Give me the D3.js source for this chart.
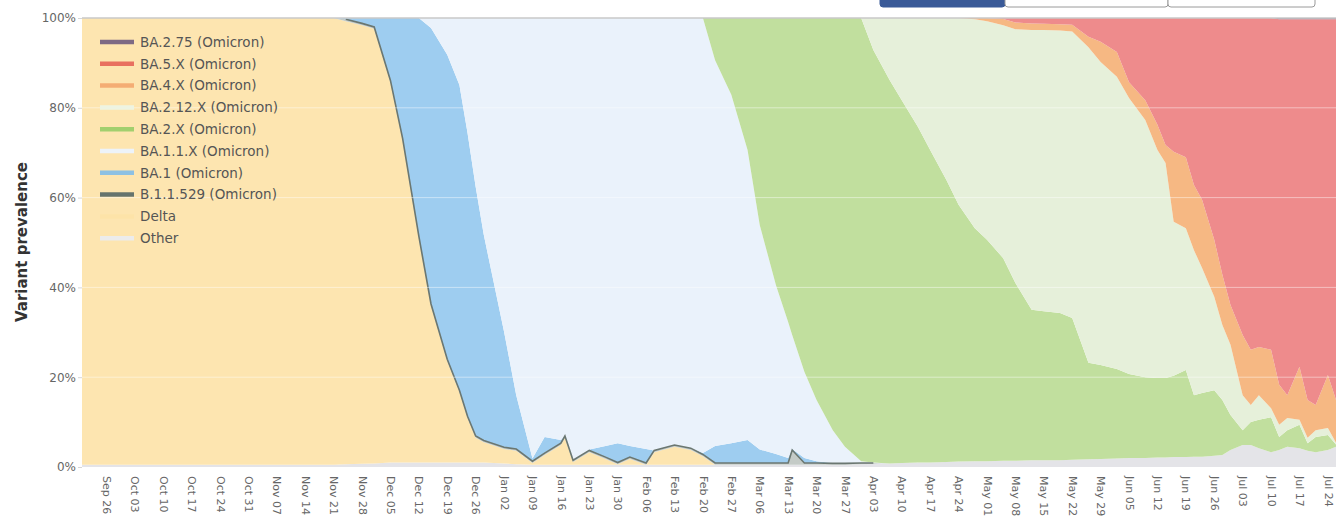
<!DOCTYPE html>
<html>
<head>
<meta charset="utf-8">
<script src="https://cdn.jsdelivr.net/npm/d3@7"></script>
<style>
	body { margin: 0; background: #fff; }
	svg { display: block; font-family: "DejaVu Sans", Verdana, sans-serif; }
</style>
</head>
<body>
<svg></svg>
<script>
// sample dates (two or three per week, denser where the mix changes fast)
var dates = ["2021-09-20","2021-10-10","2021-11-07","2021-11-21","2021-11-24","2021-11-28","2021-12-01","2021-12-05","2021-12-08","2021-12-12",
	"2021-12-15","2021-12-19","2021-12-22","2021-12-24","2021-12-26","2021-12-28","2022-01-02","2022-01-05","2022-01-09","2022-01-12",
	"2022-01-16","2022-01-17","2022-01-19","2022-01-23","2022-01-27","2022-01-30","2022-02-02","2022-02-06","2022-02-08","2022-02-13",
	"2022-02-17","2022-02-20","2022-02-23","2022-02-27","2022-03-03","2022-03-06","2022-03-10","2022-03-13","2022-03-14","2022-03-17",
	"2022-03-20","2022-03-24","2022-03-27","2022-03-31","2022-04-03","2022-04-07","2022-04-10","2022-04-14","2022-04-17","2022-04-21",
	"2022-04-24","2022-04-28","2022-05-01","2022-05-05","2022-05-08","2022-05-12","2022-05-15","2022-05-19","2022-05-22","2022-05-26",
	"2022-05-29","2022-06-02","2022-06-05","2022-06-09","2022-06-12","2022-06-14","2022-06-16","2022-06-19","2022-06-21","2022-06-23",
	"2022-06-26","2022-06-28","2022-06-30","2022-07-03","2022-07-05","2022-07-07","2022-07-10","2022-07-12","2022-07-14","2022-07-17",
	"2022-07-19","2022-07-21","2022-07-24","2022-07-26"]

// prevalence in %, one value per date
var other = [0.5,0.5,0.5,0.5,0.6,0.7,0.8,1.0,1.0,1.0,
	1.0,1.0,1.0,1.0,1.0,1.0,0.8,0.6,0.5,0.5,
	0.5,0.5,0.5,0.5,0.5,0.5,0.5,0.5,0.5,0.5,
	0.5,0.5,0.5,0.5,0.5,0.5,0.5,0.5,0.5,0.5,
	0.5,0.5,0.5,0.6,0.7,0.8,0.9,1.0,1.0,1.1,
	1.2,1.3,1.3,1.4,1.4,1.5,1.5,1.5,1.6,1.7,
	1.8,1.9,2.0,2.0,2.1,2.1,2.2,2.2,2.3,2.3,
	2.5,2.7,3.8,4.9,4.9,4.2,3.3,3.8,4.5,4.2,
	3.6,3.3,3.8,4.5]
var delta = [99.5,99.5,99.5,99.5,98.7,97.7,96.8,84.7,71.8,50.0,
	34.9,22.6,15.7,9.9,5.5,4.5,3.2,3.0,0.4,2.2,
	4.4,6.0,0.6,2.8,1.3,0.1,1.3,0,2.8,4.0,
	3.3,1.9,0,0,0,0,0,0,0,0,
	0,0,0,0,0,0,0,0,0,0,
	0,0,0,0,0,0,0,0,0,0,
	0,0,0,0,0,0,0,0,0,0,
	0,0,0,0,0,0,0,0,0,0,
	0,0,0,0]
var b11529 = [0,0,0,0,0.4,0.4,0.4,0.4,0.4,0.4,
	0.4,0.4,0.4,0.4,0.4,0.4,0.4,0.4,0.4,0.4,
	0.4,0.4,0.4,0.4,0.4,0.4,0.4,0.4,0.4,0.4,
	0.4,0.4,0.4,0.4,0.4,0.4,0.4,0.4,3.3,0.4,
	0.4,0.3,0.3,0.3,0.2,0,0,0,0,0,
	0,0,0,0,0,0,0,0,0,0,
	0,0,0,0,0,0,0,0,0,0,
	0,0,0,0,0,0,0,0,0,0,
	0,0,0,0]
var ba1 = [0,0,0,0,0.3,1.2,2.0,13.9,26.8,48.6,
	61.5,67.8,68.0,63.1,55.5,45.8,25.7,12.0,0.6,3.6,
	0.7,0,0,0.2,2.5,4.3,2.5,3.1,0,0,
	0,0.3,3.8,4.4,5.1,3.0,2.0,1.1,0.2,1.1,
	0.4,0.1,0,0,0,0,0,0,0,0,
	0,0,0,0,0,0,0,0,0,0,
	0,0,0,0,0,0,0,0,0,0,
	0,0,0,0,0,0,0,0,0,0,
	0,0,0,0]
var ba11x = [0,0,0,0,0,0,0,0,0,0,
	2.2,8.2,14.9,25.6,37.6,48.3,69.9,84.0,98.1,93.3,
	94.0,93.1,98.5,96.1,95.3,94.7,95.3,96.0,96.3,95.1,
	95.8,96.9,85.9,77.6,64.6,50.0,37.6,30.3,25.4,19.2,
	13.6,7.3,3.7,0.4,0.1,0,0,0,0,0,
	0,0,0,0,0,0,0,0,0,0,
	0,0,0,0,0,0,0,0,0,0,
	0,0,0,0,0,0,0,0,0,0,
	0,0,0,0]
var ba2x = [0,0,0,0,0,0,0,0,0,0,
	0,0,0,0,0,0,0,0,0,0,
	0,0,0,0,0,0,0,0,0,0,
	0,0,9.4,17.1,29.4,46.1,59.5,67.7,70.6,78.8,
	85.1,91.8,95.5,98.7,91.9,85.4,80.8,74.7,69.6,62.8,
	57.2,51.9,49.3,45.1,39.6,33.5,33.2,32.8,31.6,21.5,
	20.9,19.9,18.7,18.0,17.7,17.7,18.1,19.4,13.7,14.2,
	14.6,12.2,7.8,3.3,5.1,6.3,7.8,2.9,3.7,5.2,
	1.7,3.4,3.3,0.5]
var ba212x = [0,0,0,0,0,0,0,0,0,0,
	0,0,0,0,0,0,0,0,0,0,
	0,0,0,0,0,0,0,0,0,0,
	0,0,0,0,0,0,0,0,0,0,
	0,0,0,0,7.1,13.8,18.3,24.3,29.4,36.1,
	41.6,46.5,48.7,51.9,56.5,62.3,62.6,62.9,63.8,70.3,
	67.5,65.1,61.5,57.3,50.8,47.9,34.3,31.6,32.3,27.8,
	20.8,16.7,15.6,7.8,3.8,5.5,2.0,2.7,2.7,1.1,
	1.2,1.5,1.6,0.4]
var ba4x = [0,0,0,0,0,0,0,0,0,0,
	0,0,0,0,0,0,0,0,0,0,
	0,0,0,0,0,0,0,0,0,0,
	0,0,0,0,0,0,0,0,0,0,
	0,0,0,0,0,0,0,0,0,0,
	0,0.3,0.7,1.4,1.5,1.5,1.4,1.4,1.5,2.3,
	4.5,5.5,3.5,4.4,5.6,4.0,15.6,15.8,14.5,15.2,
	12.7,11.2,8.9,13.4,12.3,10.7,13.0,8.9,5.1,11.8,
	8.4,5.6,11.8,9.5]
var ba5x = [0,0,0,0,0,0,0,0,0,0,
	0,0,0,0,0,0,0,0,0,0,
	0,0,0,0,0,0,0,0,0,0,
	0,0,0,0,0,0,0,0,0,0,
	0,0,0,0,0,0,0,0,0,0,
	0,0,0,0.2,1.0,1.2,1.3,1.4,1.5,4.2,
	5.3,7.6,14.3,18.3,23.8,28.3,29.8,31.0,37.2,40.5,
	49.4,57.2,63.9,70.6,73.9,73.3,73.9,81.4,83.7,77.4,
	84.8,85.9,79.2,84.8]
var ba275 = [0,0,0,0,0,0,0,0,0,0,
	0,0,0,0,0,0,0,0,0,0,
	0,0,0,0,0,0,0,0,0,0,
	0,0,0,0,0,0,0,0,0,0,
	0,0,0,0,0,0,0,0,0,0,
	0,0,0,0,0,0,0,0,0,0,
	0,0,0,0,0,0,0,0,0,0,
	0,0,0,0,0,0,0,0.3,0.3,0.3,
	0.3,0.3,0.3,0.3]

// stack order, bottom to top
var variants = [
	{ key: "Other", values: other, fill: "#e4e4e8", swatch: "#ececec" },
	{ key: "Delta", values: delta, fill: "#fde5b0", swatch: "#fde3a8" },
	{ key: "B.1.1.529 (Omicron)", values: b11529, fill: "#c4cbc7", swatch: "#66746d" },
	{ key: "BA.1 (Omicron)", values: ba1, fill: "#9ecdf0", swatch: "#8dc1e4" },
	{ key: "BA.1.1.X (Omicron)", values: ba11x, fill: "#eaf2fb", swatch: "#edf3f9" },
	{ key: "BA.2.X (Omicron)", values: ba2x, fill: "#c1df9e", swatch: "#a2cf6e" },
	{ key: "BA.2.12.X (Omicron)", values: ba212x, fill: "#e6f0da", swatch: "#eef4e2" },
	{ key: "BA.4.X (Omicron)", values: ba4x, fill: "#f6b883", swatch: "#f4ad74" },
	{ key: "BA.5.X (Omicron)", values: ba5x, fill: "#ee8b8c", swatch: "#e8705f" },
	{ key: "BA.2.75 (Omicron)", values: ba275, fill: "#9b8aa0", swatch: "#7d6a84" }
]

var parseDate = d3.timeParse("%Y-%m-%d")
var rows = dates.map(function(d, i) {
	var row = { date: parseDate(d) }
	variants.forEach(function(v) {
		row[v.key] = v.values[i]
	})
	return row
})

var width = 1341
var height = 527
var svg = d3.select("svg")
	.attr("width", width)
	.attr("height", height)

var x = d3.scaleTime()
	.domain([parseDate("2021-09-20"), parseDate("2022-07-26")])
	.range([82, 1336])
var y = d3.scaleLinear()
	.domain([0, 100])
	.range([467, 18])

var series = d3.stack()
	.keys(variants.map(function(v) { return v.key }))(rows)

var area = d3.area()
	.x(function(d) { return x(d.data.date) })
	.y0(function(d) { return y(d[0]) })
	.y1(function(d) { return y(d[1]) })

svg.append("g")
	.attr("class", "areas")
	.selectAll("path")
	.data(series)
	.enter()
	.append("path")
	.attr("d", area)
	.attr("fill", function(s, i) { return variants[i].fill })

// the thin B.1.1.529 band shows up as a dark edge line
var b1 = series[2]
svg.append("path")
	.datum(b1.filter(function(d) { return d[1] - d[0] > 0 }))
	.attr("fill", "none")
	.attr("stroke", "#6b7771")
	.attr("stroke-width", 1.6)
	.attr("d", d3.line()
		.x(function(d) { return x(d.data.date) })
		.y(function(d) { return y(d[1]) }))

// grid
var yTicks = [0, 20, 40, 60, 80, 100]
svg.append("g")
	.selectAll("line")
	.data(yTicks.filter(function(t) { return t > 0 && t < 100 }))
	.enter()
	.append("line")
	.attr("x1", 82)
	.attr("x2", 1336)
	.attr("y1", function(t) { return y(t) })
	.attr("y2", function(t) { return y(t) })
	.attr("stroke", "#fff")
	.attr("stroke-opacity", 0.45)
svg.append("line")
	.attr("x1", 82)
	.attr("x2", 1336)
	.attr("y1", y(100))
	.attr("y2", y(100))
	.attr("stroke", "#c9c9c9")
	.attr("stroke-width", 1.5)

// y axis
var yAxis = svg.append("g")
	.attr("transform", "translate(82,0)")
	.call(d3.axisLeft(y)
		.tickValues(yTicks)
		.tickFormat(function(t) { return t + "%" })
		.tickSize(4)
		.tickPadding(2))
yAxis.select(".domain").remove()
yAxis.selectAll("line").attr("stroke", "#d6d6d6")
yAxis.selectAll("text")
	.attr("fill", "#666")
	.style("font-size", "12px")
	.style("font-family", "DejaVu Sans, sans-serif")

svg.append("text")
	.attr("transform", "translate(27,242) rotate(-90)")
	.attr("text-anchor", "middle")
	.attr("fill", "#333")
	.style("font-size", "15px")
	.style("font-weight", "bold")
	.text("Variant prevalence")

// x axis, one label per week
var weekTicks = d3.timeWeek.range(parseDate("2021-09-26"), parseDate("2022-07-25"))
var xAxis = svg.append("g")
	.attr("transform", "translate(0,467)")
	.call(d3.axisBottom(x)
		.tickValues(weekTicks)
		.tickFormat(d3.timeFormat("%b %d"))
		.tickSize(0))
xAxis.select(".domain").remove()
xAxis.selectAll("text")
	.attr("transform", "rotate(90)")
	.attr("x", 9)
	.attr("y", 0)
	.attr("dy", "0.35em")
	.attr("fill", "#666")
	.style("text-anchor", "start")
	.style("font-size", "11px")
	.style("font-family", "DejaVu Sans, sans-serif")

// legend, top of stack first
var legend = svg.append("g")
	.attr("class", "legend")
	.selectAll("g")
	.data(variants.slice().reverse())
	.enter()
	.append("g")
	.attr("transform", function(v, i) { return "translate(100," + (42 + i * 21.8) + ")" })
legend.append("line")
	.attr("x1", 0)
	.attr("x2", 34)
	.attr("stroke", function(v) { return v.swatch })
	.attr("stroke-width", 4.5)
legend.append("text")
	.attr("x", 40)
	.attr("dy", "0.35em")
	.attr("fill", "#555")
	.style("font-size", "13.5px")
	.text(function(v) { return v.key })

// range buttons, mostly cut off by the top edge
var buttons = [{ x: 880, w: 125, on: true }, { x: 1005, w: 163, on: false }, { x: 1168, w: 147, on: false }]
svg.append("g")
	.selectAll("rect")
	.data(buttons)
	.enter()
	.append("rect")
	.attr("x", function(b) { return b.x })
	.attr("y", -12)
	.attr("width", function(b) { return b.w })
	.attr("height", 19)
	.attr("rx", 3)
	.attr("fill", function(b) { return b.on ? "#3a5a98" : "#fff" })
	.attr("stroke", function(b) { return b.on ? "#3a5a98" : "#9a9a9a" })
</script>
</body>
</html>
